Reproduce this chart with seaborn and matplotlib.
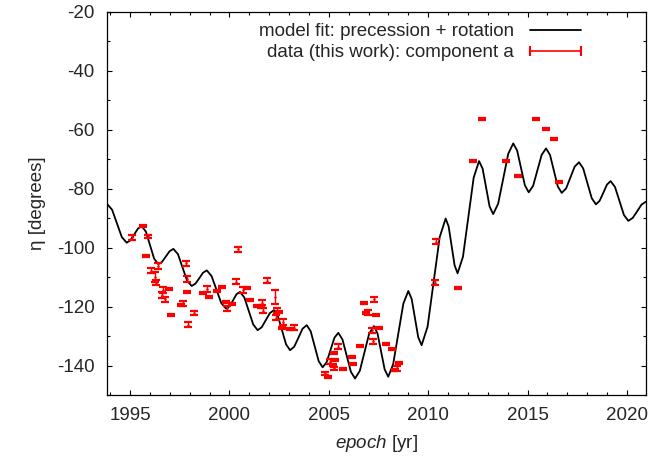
import numpy as np
import pandas as pd
import matplotlib
matplotlib.use("Agg")
import matplotlib.pyplot as plt
from matplotlib.lines import Line2D
from matplotlib.ticker import MultipleLocator
import seaborn as sns

# ---- model fit curve ----
model_year = [
    1993.85, 1994.095, 1994.34, 1994.585, 1994.83, 1995.02, 1995.21, 1995.40,
    1995.59, 1995.80, 1996.005, 1996.21, 1996.42, 1996.61, 1996.80, 1996.99,
    1997.18, 1997.41, 1997.64, 1997.87, 1998.10, 1998.29, 1998.48, 1998.67,
    1998.86, 1999.10, 1999.345, 1999.59, 1999.83, 2000.005, 2000.18, 2000.355,
    2000.53, 2000.75, 2000.975, 2001.20, 2001.42, 2001.625, 2001.83, 2002.035,
    2002.24, 2002.44, 2002.645, 2002.85, 2003.05, 2003.26, 2003.47, 2003.68,
    2003.89, 2004.09, 2004.29, 2004.49, 2004.69, 2004.89, 2005.085, 2005.28,
    2005.48, 2005.69, 2005.90, 2006.11, 2006.32, 2006.56, 2006.795, 2007.03,
    2007.27, 2007.45, 2007.63, 2007.81, 2007.99, 2008.24, 2008.495, 2008.75,
    2009.00, 2009.17, 2009.335, 2009.50, 2009.67, 2009.97, 2010.275, 2010.58,
    2010.88, 2011.03, 2011.18, 2011.33, 2011.48, 2011.75, 2012.02, 2012.29,
    2012.56, 2012.74, 2012.915, 2013.09, 2013.27, 2013.52, 2013.775, 2014.03,
    2014.28, 2014.475, 2014.67, 2014.865, 2015.06, 2015.28, 2015.495, 2015.71,
    2015.93, 2016.13, 2016.325, 2016.52, 2016.72, 2016.94, 2017.155, 2017.37,
    2017.59, 2017.80, 2018.015, 2018.23, 2018.44, 2018.625, 2018.81, 2018.995,
    2019.18, 2019.40, 2019.625, 2019.85, 2020.07, 2020.29, 2020.51, 2020.73,
    2020.95,
]
model_eta = [
    -85.2, -87.1, -91.8, -96.4, -98.3, -97.5, -95.5, -93.5,
    -92.7, -94.6, -99.2, -103.7, -105.6, -104.8, -103.0, -101.2,
    -100.4, -102.2, -106.7, -111.2, -113.0, -112.2, -110.4, -108.5,
    -107.7, -109.6, -114.2, -118.8, -120.7, -119.9, -117.9, -115.8,
    -115.0, -116.9, -121.5, -126.1, -128.0, -127.0, -124.6, -122.2,
    -121.2, -123.2, -128.0, -132.8, -134.8, -133.6, -130.6, -127.5,
    -126.3, -128.4, -133.5, -138.5, -140.6, -138.9, -134.8, -130.6,
    -128.9, -131.2, -136.7, -142.1, -144.4, -141.8, -135.5, -129.2,
    -126.6, -129.1, -135.2, -141.3, -143.8, -139.5, -129.3, -119.0,
    -114.7, -117.4, -123.9, -130.4, -133.1, -126.8, -111.6, -96.4,
    -90.1, -92.8, -99.4, -106.0, -108.7, -103.1, -89.7, -76.2,
    -70.6, -73.2, -79.6, -86.0, -88.6, -85.1, -76.6, -68.1,
    -64.6, -67.0, -72.9, -78.8, -81.2, -79.0, -73.8, -68.5,
    -66.3, -68.5, -73.9, -79.2, -81.4, -79.9, -76.2, -72.5,
    -71.0, -73.1, -78.2, -83.2, -85.3, -84.1, -81.4, -78.6,
    -77.4, -79.4, -84.2, -88.9, -90.9, -89.9, -87.7, -85.4,
    -84.4,
]

# ---- data points: component a ----
data_year = [
    1995.12, 1995.67, 1995.89, 1995.80, 1996.06, 1996.26, 1996.31, 1996.42,
    1996.68, 1996.98, 1996.62, 1996.78, 1997.05, 1997.55, 1997.68, 1997.80,
    1997.85, 1997.85, 1997.92, 1998.23, 1998.66, 1998.86, 1998.97, 1999.39,
    1999.64, 1999.83, 2000.12, 1999.86, 2000.33, 2000.45, 2000.67, 2000.90,
    2001.04, 2001.88, 2002.30, 2001.40, 2001.62, 2001.57, 2001.71, 2002.41,
    2002.51, 2002.34, 2002.71, 2002.63, 2003.05, 2003.25, 2004.81, 2004.97,
    2005.48, 2005.26, 2005.31, 2005.06, 2005.23, 2005.26, 2005.73, 2006.18,
    2006.20, 2006.57, 2006.77, 2007.29, 2006.87, 2006.99, 2007.36, 2007.16,
    2007.54, 2007.21, 2007.88, 2008.16, 2008.55, 2008.45, 2008.33, 2010.33,
    2010.38, 2011.52, 2012.27, 2012.72, 2013.90, 2014.53, 2015.41, 2015.91,
    2016.33, 2016.60,
]
data_eta = [
    -96.5, -92.6, -96.2, -102.7, -107.8, -109.9, -111.9, -106.2,
    -114.4, -114.1, -116.1, -117.5, -123.0, -119.5, -118.9, -105.3,
    -110.6, -115.0, -126.1, -122.1, -115.3, -114.0, -116.7, -114.7,
    -113.3, -118.5, -119.2, -120.6, -111.5, -100.6, -114.4, -113.6,
    -117.6, -111.2, -116.7, -119.8, -118.7, -120.1, -121.4, -121.4,
    -121.8, -123.8, -125.2, -127.4, -127.5, -127.1, -142.7, -143.8,
    -133.6, -135.7, -138.2, -138.7, -139.9, -141.0, -141.3, -137.0,
    -139.5, -133.4, -118.7, -117.5, -122.3, -122.1, -122.9, -128.0,
    -127.1, -131.8, -132.8, -134.4, -139.1, -141.0, -141.6, -111.9,
    -97.9, -113.6, -70.6, -56.3, -70.5, -75.7, -56.3, -59.7,
    -63.1, -77.6,
]
data_err = [
    0.9, 0.35, 0.35, 0.35, 0.9, 1.8, 0.9, 0.9,
    0.9, 0.35, 0.9, 0.9, 0.35, 0.35, 0.9, 0.9,
    0.9, 0.35, 0.9, 0.6, 0.35, 0.9, 0.35, 0.35,
    0.35, 0.35, 0.35, 0.9, 0.9, 0.9, 0.9, 0.35,
    0.35, 0.9, 2.3, 0.35, 0.9, 0.35, 0.9, 0.9,
    0.35, 0.9, 0.9, 0.35, 0.35, 0.9, 0.35, 0.35,
    0.9, 0.35, 0.35, 0.9, 0.35, 0.35, 0.35, 0.35,
    0.35, 0.35, 0.35, 0.9, 0.35, 0.9, 0.35, 0.9,
    0.35, 0.9, 0.35, 0.35, 0.35, 0.9, 0.35, 0.9,
    0.9, 0.35, 0.35, 0.35, 0.35, 0.35, 0.35, 0.35,
    0.35, 0.35,
]

model_label = "model fit: precession + rotation"
data_label = "data (this work): component a"

model_df = pd.DataFrame({"epoch": model_year, "eta": model_eta})
data_df = pd.DataFrame({"epoch": data_year, "eta": data_eta, "err": data_err})

sns.set_style("ticks")
plt.rcParams["font.family"] = ["Liberation Sans", "DejaVu Sans"]
plt.rcParams["mathtext.fontset"] = "custom"
plt.rcParams["mathtext.it"] = "Liberation Sans:italic"
plt.rcParams["mathtext.rm"] = "Liberation Sans"
plt.rcParams["axes.unicode_minus"] = False

FS = 13.5
fig = plt.figure(figsize=(6.65, 4.62), dpi=100)
ax = fig.add_axes([107 / 665, 1 - 395 / 462, (646 - 107) / 665, (395 - 12) / 462])

sns.lineplot(data=model_df, x="epoch", y="eta", color="black", lw=1.3,
             ax=ax, legend=False, sort=False, estimator=None)

ax.errorbar(data_df["epoch"], data_df["eta"], yerr=data_df["err"], fmt="none",
            ecolor="#ff0000", elinewidth=1.0, capsize=3.2, capthick=1.6)
sns.scatterplot(data=data_df, x="epoch", y="eta", color="#ff0000", s=3,
                marker="o", linewidth=0, ax=ax, legend=False)

ax.set_xlim(1993.84, 2020.96)
ax.set_ylim(-150, -20)
ax.xaxis.set_major_locator(MultipleLocator(5))
ax.xaxis.set_minor_locator(MultipleLocator(1))
ax.yaxis.set_major_locator(MultipleLocator(20))
ax.yaxis.set_minor_locator(MultipleLocator(10))
ax.tick_params(which="both", direction="in", top=True, right=True,
               labelsize=FS, color="black", width=0.8)
ax.tick_params(which="major", length=3.8, pad=9)
ax.tick_params(which="minor", length=1.9)
for s in ax.spines.values():
    s.set_color("black")
    s.set_linewidth(0.9)

ax.set_xlabel(r"$\it{epoch}$ [yr]", fontsize=FS, labelpad=6)
ax.set_ylabel("η [degrees]", fontsize=FS, labelpad=8)

h_model = Line2D([], [], color="black", lw=1.3)
h_data = Line2D([], [], color="#ff0000", lw=1.2, marker="|", markersize=7,
                markeredgewidth=1.5)
leg = ax.legend([h_model, h_data], [model_label, data_label],
                loc="upper right", bbox_to_anchor=(0.889, 0.971),
                markerfirst=False, frameon=False, fontsize=FS,
                handlelength=3.3, handletextpad=0.55, labelspacing=0.22,
                borderpad=0, borderaxespad=0, numpoints=2)
for t in leg.get_texts():
    t.set_ha("right")

fig.savefig("out.png", dpi=100)
